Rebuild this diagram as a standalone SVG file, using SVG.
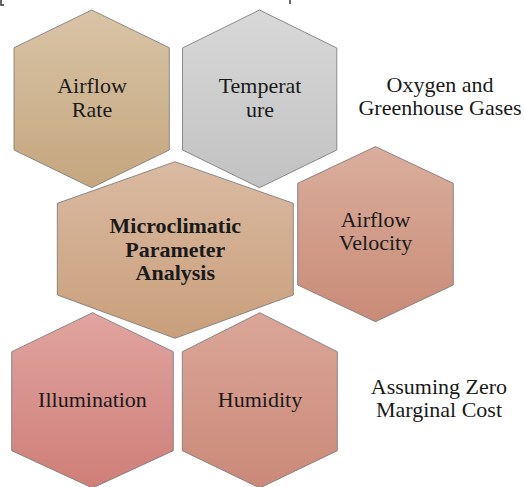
<svg xmlns="http://www.w3.org/2000/svg" width="524" height="487" viewBox="0 0 524 487">
<style>
.hex{stroke:#7a7a7a;stroke-width:1;stroke-opacity:0.85}
.t{font-family:'Liberation Serif','DejaVu Serif',serif;font-size:22px;fill:#1a1a1a;text-anchor:middle}
.b{font-weight:bold}
.mark{stroke:#333;stroke-width:1.5;fill:none}
</style>
<defs>
<linearGradient id="gRate" x1="0" y1="0" x2="0" y2="1"><stop offset="0" stop-color="#D8C4A6"/><stop offset="1" stop-color="#C5A67E"/></linearGradient>
<linearGradient id="gTemp" x1="0" y1="0" x2="0" y2="1"><stop offset="0" stop-color="#D8D8D8"/><stop offset="1" stop-color="#C2C2C2"/></linearGradient>
<linearGradient id="gMain" x1="0" y1="0" x2="0" y2="1"><stop offset="0" stop-color="#DABAA2"/><stop offset="1" stop-color="#C99F7B"/></linearGradient>
<linearGradient id="gVel" x1="0" y1="0" x2="0" y2="1"><stop offset="0" stop-color="#DAAE9C"/><stop offset="1" stop-color="#C88B77"/></linearGradient>
<linearGradient id="gIll" x1="0" y1="0" x2="0" y2="1"><stop offset="0" stop-color="#E1A4A0"/><stop offset="1" stop-color="#CE7E77"/></linearGradient>
<linearGradient id="gHum" x1="0" y1="0" x2="0" y2="1"><stop offset="0" stop-color="#DAA698"/><stop offset="1" stop-color="#CB8978"/></linearGradient>
</defs>
<rect width="524" height="487" fill="#ffffff"/>
<g id="marks">
<path class="mark" d="M1,0 V5 H4"/>
<path class="mark" d="M290,0 V4"/>
</g>
<g id="connectors"></g>
<g id="node-airflow-rate">
<polygon class="hex" fill="url(#gRate)" points="91.7,10 169.3,47.7 169.3,150 91.7,187.7 14,150 14,47.7"/>
<text class="t" x="92" y="93">Airflow</text>
<text class="t" x="92" y="116.5">Rate</text>
</g>
<g id="node-temperature">
<polygon class="hex" fill="url(#gTemp)" points="259.5,10 336.8,48 336.8,150 259.5,187.7 182.5,150 182.5,48"/>
<text class="t" x="260" y="93">Temperat</text>
<text class="t" x="260" y="116.5">ure</text>
</g>
<g id="node-oxygen">
<text class="t" x="440" y="92">Oxygen and</text>
<text class="t" x="440" y="115">Greenhouse Gases</text>
</g>
<g id="node-main">
<polygon class="hex" fill="url(#gMain)" points="175,161.7 293.3,203.3 293.3,295 175,338.3 57.3,295 57.3,203.3"/>
<text class="t b" x="175.3" y="233">Microclimatic</text>
<text class="t b" x="175.3" y="256.5">Parameter</text>
<text class="t b" x="175.3" y="279.5">Analysis</text>
</g>
<g id="node-airflow-velocity">
<polygon class="hex" fill="url(#gVel)" points="375.5,146.6 453.3,183.3 453.3,285 375.5,321.7 297.7,285 297.7,183.3"/>
<text class="t" x="375.5" y="227">Airflow</text>
<text class="t" x="375.5" y="250">Velocity</text>
</g>
<g id="node-illumination">
<polygon class="hex" fill="url(#gIll)" points="92.5,312.7 173.3,351.7 173.3,450.7 92.5,488 11.7,450.7 11.7,351.7"/>
<text class="t" x="92.5" y="407">Illumination</text>
</g>
<g id="node-humidity">
<polygon class="hex" fill="url(#gHum)" points="259.8,312.7 337.3,351.7 337.3,450.7 259.8,488 182.3,450.7 182.3,351.7"/>
<text class="t" x="260" y="407">Humidity</text>
</g>
<g id="node-zero-cost">
<text class="t" x="439" y="393.5">Assuming Zero</text>
<text class="t" x="439" y="416.5">Marginal Cost</text>
</g>
</svg>
